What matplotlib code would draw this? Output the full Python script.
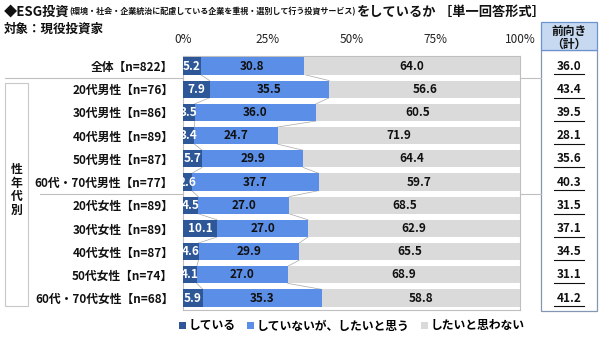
import matplotlib
matplotlib.use("Agg")
import matplotlib.pyplot as plt
from matplotlib.patches import Rectangle, Patch
from matplotlib.lines import Line2D
import matplotlib.transforms as mtransforms

plt.rcParams["font.family"] = ["Noto Sans CJK JP", "DejaVu Sans"]

# data
labels = ["全体【n=822】", "20代男性【n=76】", "30代男性【n=86】", "40代男性【n=89】",
          "50代男性【n=87】", "60代・70代男性【n=77】", "20代女性【n=89】",
          "30代女性【n=89】", "40代女性【n=87】", "50代女性【n=74】",
          "60代・70代女性【n=68】"]
doing = [5.2, 7.9, 3.5, 3.4, 5.7, 2.6, 4.5, 10.1, 4.6, 4.1, 5.9]
want = [30.8, 35.5, 36.0, 24.7, 29.9, 37.7, 27.0, 27.0, 29.9, 27.0, 35.3]
not_want = [64.0, 56.6, 60.5, 71.9, 64.4, 59.7, 68.5, 62.9, 65.5, 68.9, 58.8]
positive = [36.0, 43.4, 39.5, 28.1, 35.6, 40.3, 31.5, 37.1, 34.5, 31.1, 41.2]
series_names = ["している", "していないが、したいと思う", "したいと思わない"]
ticks = [0, 25, 50, 75, 100]

c_dark = "#2D5797"
c_light = "#5B8EE6"
c_gray = "#DADADA"
W, H = 600, 343


def fx(x):
    return x / W


def fy(y):
    return 1 - y / H


fig = plt.figure(figsize=(6, 3.43), dpi=100)

# main bar axes
row0, step = 66, 23.2
top_px = row0 - 0.45 * step
bot_px = row0 + 10.5 * step
ax = fig.add_axes([fx(183), fy(bot_px), fx(520 - 183), (bot_px - top_px) / H])
n = len(labels)
ys = list(range(n))
h = 0.74
left2 = [a for a in doing]
left3 = [a + b for a, b in zip(doing, want)]
ax.barh(ys, doing, height=h, color=c_dark, zorder=3)
ax.barh(ys, want, left=left2, height=h, color=c_light, zorder=3)
ax.barh(ys, not_want, left=left3, height=h, color=c_gray, zorder=3)

# series lines
for i in range(n - 1):
    for cum in (left2, left3):
        ax.plot([cum[i], cum[i + 1]], [i + h / 2, i + 1 - h / 2],
                color="#A6A6A6", lw=0.5, zorder=2)

for i in range(n):
    ax.text(doing[i] / 2, i, f"{doing[i]:.1f}", ha="center", va="center",
            color="white", fontsize=8.5, fontweight="bold", zorder=4)
    ax.text(left2[i] + want[i] / 2, i, f"{want[i]:.1f}", ha="center", va="center",
            color="#111111", fontsize=8.5, fontweight="bold", zorder=4)
    ax.text(left3[i] + not_want[i] / 2, i, f"{not_want[i]:.1f}", ha="center",
            va="center", color="#111111", fontsize=8.5, fontweight="bold", zorder=4)

ax.set_xlim(0, 100)
ax.set_ylim(n - 0.5, -0.45)
ax.set_xticks(ticks)
ax.set_xticklabels([f"{t}%" for t in ticks], fontsize=8.5, color="#222222")
ax.xaxis.tick_top()
ax.set_yticks(ys)
ax.set_yticklabels(labels, fontsize=8.5, fontweight="bold", color="#111111")
ax.tick_params(axis="x", length=0, pad=7)
ax.tick_params(axis="y", length=0, pad=7)
for s in ax.spines.values():
    s.set_color("#BFBFBF")
    s.set_linewidth(0.8)

# separators
for yp in (77.5, 194):
    x0 = 5 if yp < 100 else 40
    fig.add_artist(Line2D([fx(x0), fx(183)], [fy(yp), fy(yp)], color="#BFBFBF", lw=0.8))
    fig.add_artist(Line2D([fx(520), fx(541)], [fy(yp), fy(yp)], color="#BFBFBF", lw=0.8))

# left group box
fig.add_artist(Rectangle((fx(5), fy(306)), fx(23), (306 - 83) / H,
                         facecolor="none", edgecolor="#C8C8C8", lw=0.8))
fig.text(fx(16.5), fy(190), "\n".join("性年代別"), ha="center", va="center",
         fontsize=8.5, fontweight="bold", linespacing=1.05, color="#111111")

# right table
fig.add_artist(Rectangle((fx(541), fy(311)), fx(56), (311 - 50) / H,
                         facecolor="none", edgecolor="#8497B0", lw=0.9))
fig.add_artist(Rectangle((fx(541), fy(50)), fx(56), (50 - 22) / H,
                         facecolor="#C6D9F1", edgecolor="#6C93CF", lw=0.9))
fig.text(fx(569), fy(31), "前向き", ha="center", va="center", fontsize=8.5,
         fontweight="bold", color="#111111")
fig.text(fx(569), fy(44), "（計）", ha="center", va="center", fontsize=8.5,
         fontweight="bold", color="#111111")
trans = mtransforms.blended_transform_factory(fig.transFigure, ax.transData)
for i, v in enumerate(positive):
    fig.text(fx(569), i, f"{v:.1f}", transform=trans, ha="center", va="center",
             fontsize=8.5, fontweight="bold", color="#111111")
    fig.add_artist(Line2D([fx(554), fx(584)], [i + 0.36, i + 0.36], transform=trans,
                          color="#111111", lw=0.8))

# title
renderer = fig.canvas.get_renderer()
pieces = [("◆ESG投資", 9.5), ("(環境・社会・企業統治に配慮している企業を重視・選別して行う投資サービス)", 5.8),
          ("をしているか", 9.5), (" ［単一回答形式］", 9.5)]
x = fx(4)
for txt, fs in pieces:
    t = fig.text(x, fy(12), txt, ha="left", va="center", fontsize=fs,
                 fontweight="bold", color="#111111")
    bb = t.get_window_extent(renderer)
    x = bb.x1 / fig.bbox.width
fig.text(fx(4), fy(29), "対象：現役投資家", ha="left", va="center", fontsize=9,
         fontweight="bold", color="#111111")

# legend
handles = [Patch(facecolor=c, edgecolor="none") for c in (c_dark, c_light, c_gray)]
fig.legend(handles, series_names, loc="center", bbox_to_anchor=(fx(352), fy(326)),
           ncol=3, frameon=False, prop={"size": 8.5, "weight": "bold"},
           handlelength=0.6, handleheight=0.6, handletextpad=0.2, columnspacing=1.0)

fig.savefig("out.png", dpi=100)
